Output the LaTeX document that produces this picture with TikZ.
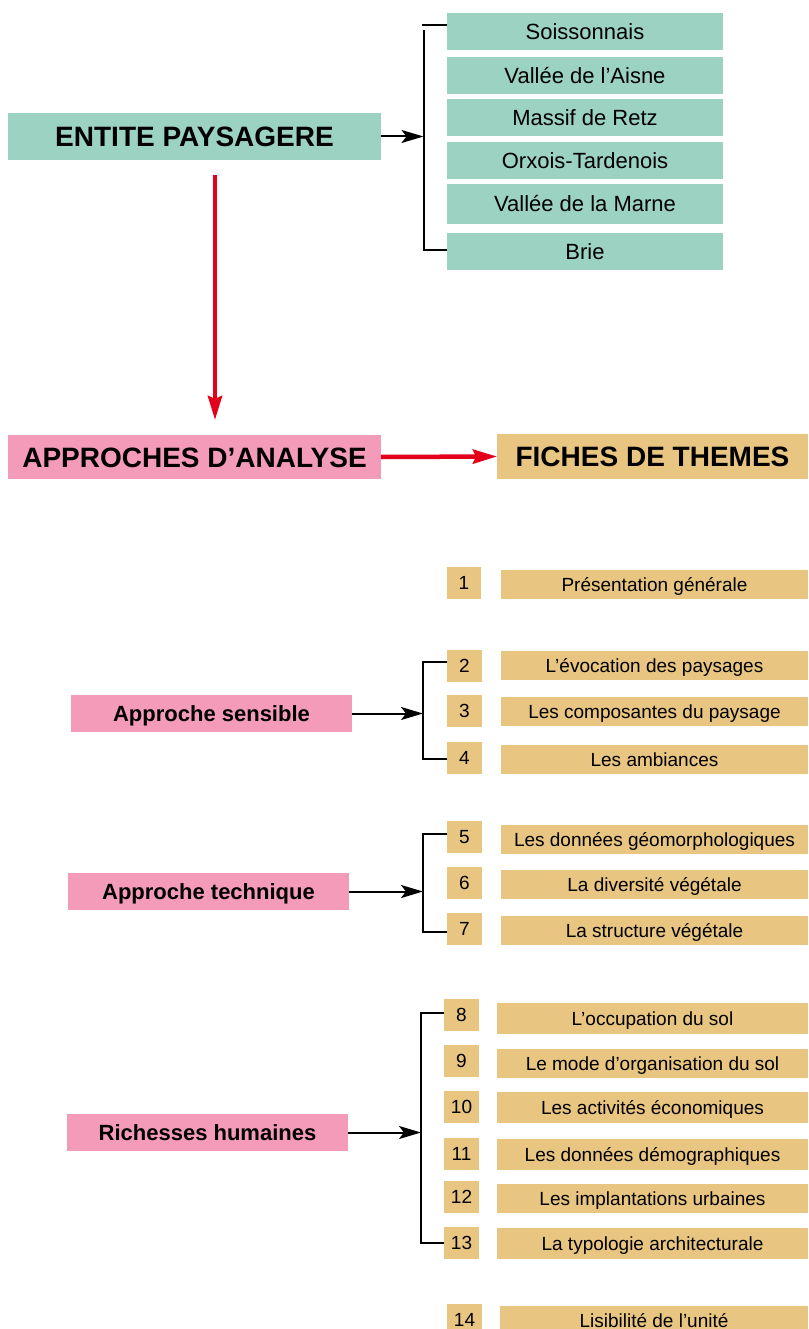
\documentclass[tikz,border=0pt]{standalone}
\usepackage{fontspec}
\setmainfont{Liberation Sans}
\usetikzlibrary{arrows.meta}
\definecolor{teal1}{HTML}{9CD2C2}
\definecolor{pink1}{HTML}{F49BB9}
\definecolor{tan1}{HTML}{E8C580}
\definecolor{red1}{HTML}{E3001B}
\newcommand{\bx}[7]{\node[#6, minimum width={(#4-#2)*1pt}, minimum height={(#5-#3)*1pt}] (#1) at ({(#2+#4)/2},{(#3+#5)/2}) {#7};}
\tikzset{
  base/.style={inner sep=0pt, outer sep=0pt, draw=none, text depth=0pt},
  bigteal/.style={base, fill=teal1, font=\fontsize{28}{32}\selectfont\bfseries, text height=20pt},
  bigpink/.style={base, fill=pink1, font=\fontsize{28}{32}\selectfont\bfseries, text height=20pt},
  bigtan/.style={base, fill=tan1, font=\fontsize{28}{32}\selectfont\bfseries, text height=20pt},
  listteal/.style={base, fill=teal1, font=\fontsize{22}{26}\selectfont, text height=15.8pt},
  subpink/.style={base, fill=pink1, font=\fontsize{22}{26}\selectfont\bfseries, text height=15.8pt},
  numbox/.style={base, fill=tan1, font=\fontsize{19}{22}\selectfont, text height=13.6pt},
  labbox/.style={base, fill=tan1, font=\fontsize{19}{22}\selectfont, text height=13.6pt},
  conn/.style={line width=2pt, black},
  blackarrow/.style={line width=2pt, black, -{Stealth[length=22pt,width=13pt,inset=5pt]}},
  redarrow/.style={line width=4.5pt, red1, -{Stealth[length=24pt,width=14pt,inset=3pt]}},
}
\begin{document}
\begin{tikzpicture}[x=1pt,y=-1pt]
\useasboundingbox (0,0) rectangle (808,1329);
% top section
\bx{ent}{8}{113}{381}{160}{bigteal}{ENTITE PAYSAGERE}
\bx{s1}{447}{13}{723}{50}{listteal}{Soissonnais}
\bx{s2}{447}{57}{723}{94}{listteal}{Vallée de l’Aisne}
\bx{s3}{447}{99}{723}{136}{listteal}{Massif de Retz}
\bx{s4}{447}{142}{723}{179}{listteal}{Orxois-Tardenois}
\bx{s5}{447}{184}{723}{224}{listteal}{Vallée de la Marne}
\bx{s6}{447}{233}{723}{270}{listteal}{Brie}
\coordinate (t1) at (423,25);
\coordinate (t1v) at (423.5,30);
\coordinate (t2) at (423.5,250);
\draw[conn] (s1.west |- t1) -- ([xshift=-1pt]t1);
\draw[conn] (t1v) -- (t2) -- (s6.west |- t2);
\draw[blackarrow] (ent.east) -- (ent.east -| t2);
% middle
\bx{app}{8}{435}{381}{479}{bigpink}{APPROCHES D’ANALYSE}
\bx{fic}{497}{434}{808}{479}{bigtan}{FICHES DE THEMES}
\draw[redarrow] ([shift={(20.5,15)}]ent.south) -- ([shift={(20.5,-15)}]app.north);
\draw[redarrow] (app.east) -- (fic.west);
% item 1
\bx{n1}{447}{567}{481}{599}{numbox}{1}
\bx{l1}{501}{570}{808}{599}{labbox}{Présentation générale}
% approche sensible
\bx{sens}{71}{695}{352}{732}{subpink}{Approche sensible}
\bx{n2}{447}{650}{482}{682}{numbox}{2}
\bx{l2}{501}{651}{808}{680}{labbox}{L’évocation des paysages}
\bx{n3}{447}{695}{482}{727}{numbox}{3}
\bx{l3}{501}{697}{808}{726}{labbox}{Les composantes du paysage}
\bx{n4}{447}{742}{482}{774}{numbox}{4}
\bx{l4}{501}{745}{808}{774}{labbox}{Les ambiances}
\coordinate (a1) at (423,662);
\coordinate (a2) at (423,759);
\draw[conn] (n2.west |- a1) -- (a1) -- (a2) -- (n4.west |- a2);
\draw[blackarrow] (sens.east) -- (sens.east -| a1);
% approche technique
\bx{tech}{68}{873}{349}{910}{subpink}{Approche technique}
\bx{n5}{447}{821}{482}{853}{numbox}{5}
\bx{l5}{501}{825}{808}{854}{labbox}{Les données géomorphologiques}
\bx{n6}{447}{867}{482}{899}{numbox}{6}
\bx{l6}{501}{870}{808}{899}{labbox}{La diversité végétale}
\bx{n7}{447}{913}{482}{945}{numbox}{7}
\bx{l7}{501}{916}{808}{945}{labbox}{La structure végétale}
\coordinate (b1) at (423,834);
\coordinate (b2) at (423,932);
\draw[conn] (n5.west |- b1) -- (b1) -- (b2) -- (n7.west |- b2);
\draw[blackarrow] (tech.east) -- (tech.east -| b1);
% richesses humaines
\bx{rich}{67}{1114}{348}{1151}{subpink}{Richesses humaines}
\bx{n8}{444}{999}{479}{1031}{numbox}{8}
\bx{l8}{497}{1003}{808}{1034}{labbox}{L’occupation du sol}
\bx{n9}{444}{1045}{479}{1077}{numbox}{9}
\bx{l9}{497}{1049}{808}{1078}{labbox}{Le mode d’organisation du sol}
\bx{n10}{444}{1091}{479}{1123}{numbox}{10}
\bx{l10}{497}{1092}{808}{1123}{labbox}{Les activités économiques}
\bx{n11}{444}{1138}{479}{1170}{numbox}{11}
\bx{l11}{497}{1139}{808}{1170}{labbox}{Les données démographiques}
\bx{n12}{444}{1181}{479}{1213}{numbox}{12}
\bx{l12}{497}{1184}{808}{1213}{labbox}{Les implantations urbaines}
\bx{n13}{444}{1227}{479}{1259}{numbox}{13}
\bx{l13}{497}{1228}{808}{1259}{labbox}{La typologie architecturale}
\coordinate (c1) at (421,1013);
\coordinate (c2) at (421,1243);
\draw[conn] (n8.west |- c1) -- (c1) -- (c2) -- (n13.west |- c2);
\draw[blackarrow] (rich.east) -- (rich.east -| c1);
% item 14
\bx{n14}{447}{1304}{482}{1336}{numbox}{14}
\bx{l14}{500}{1306}{808}{1336}{labbox}{Lisibilité de l’unité}
\end{tikzpicture}
\end{document}
